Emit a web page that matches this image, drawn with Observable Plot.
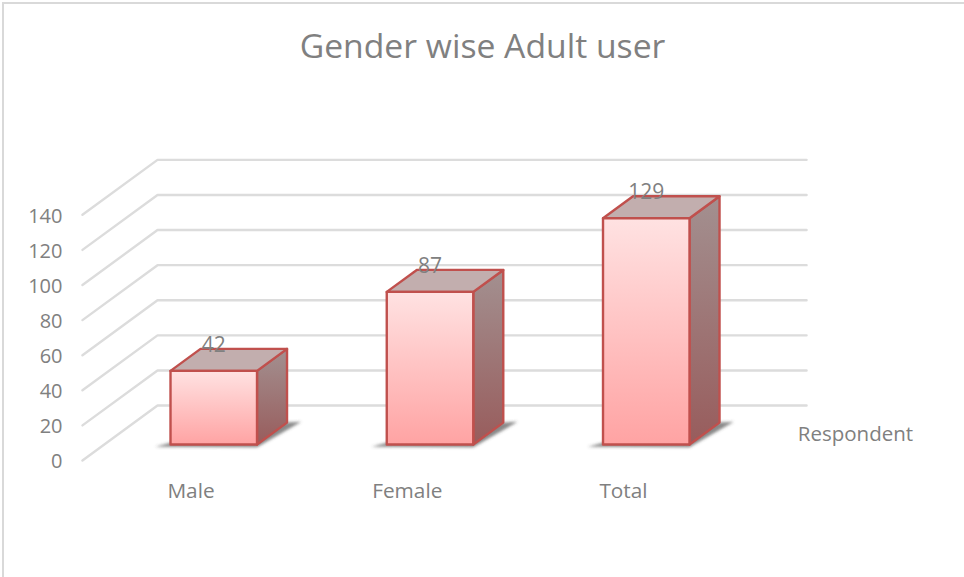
<!DOCTYPE html>
<html>
<head>
<meta charset="utf-8">
<script src="https://cdn.jsdelivr.net/npm/d3@7"></script>
<script src="https://cdn.jsdelivr.net/npm/@observablehq/plot@0.6"></script>
<style>
html,body{margin:0;padding:0;background:#fff}
#wrap{position:relative;width:964px;height:577px;overflow:hidden}
#border{position:absolute;left:2px;top:2px;width:960px;height:590px;border:2px solid #d9d9d9;border-width:2px 2px 0 2px;box-sizing:content-box;pointer-events:none}
</style>
</head>
<body>
<div id="wrap"><div id="border"></div></div>
<script>
const titleText = "Gender wise Adult user";
const seriesName = "Respondent";
const categories = ["Male", "Female", "Total"];
const respondents = [42, 87, 129];
const yTicks = [0, 20, 40, 60, 80, 100, 120, 140];

// oblique 3D projection expressed in data units (x: category index, y: value)
const DEPTH_X = 0.347, DEPTH_Y = 31.3;
const FLOOR_L = -0.5065, FLOOR_R = 2.495;
const HALF = 0.2, D0 = 0.29, D1 = 0.69;
const pt = (x, v, d) => ({x: x + d * DEPTH_X, y: v + d * DEPTH_Y});

const gridRows = yTicks.flatMap(t => [
  {...pt(FLOOR_L, t, 0), t},
  {...pt(FLOOR_L, t, 1), t},
  {...pt(FLOOR_R, t, 1), t}
]);
const poly = (i, corners) => [...corners, corners[0]].map(c => ({...pt(c[0], c[1], c[2]), i}));
const frontRows = respondents.flatMap((v, i) => poly(i, [[i-HALF,v,D0],[i+HALF,v,D0],[i+HALF,0,D0],[i-HALF,0,D0]]));
const sideRows  = respondents.flatMap((v, i) => poly(i, [[i+HALF,v,D0],[i+HALF,v,D1],[i+HALF,0,D1],[i+HALF,0,D0]]));
const topRows   = respondents.flatMap((v, i) => poly(i, [[i-HALF,v,D0],[i+HALF,v,D0],[i+HALF,v,D1],[i-HALF,v,D1]]));
const shadowRows = respondents.flatMap((v, i) => poly(i, [
  [i-HALF-0.07,-1.2,D0],[i+HALF,-1.5,D0],[i+HALF+0.055,-0.5,D1+0.03],[i+HALF-0.1,-0.5,D1],[i-HALF,0,D0+0.05]
]));
const labelRows = respondents.map((v, i) => ({...pt(i, v, D0), v}));

const defs = () => {
  const ns = "http://www.w3.org/2000/svg";
  const el = document.createElementNS(ns, "defs");
  el.innerHTML = `
    <linearGradient id="fFront" x1="0" y1="0" x2="0" y2="1">
      <stop offset="0" stop-color="#ffe2e2"/><stop offset="1" stop-color="#ffa3a3"/>
    </linearGradient>
    <linearGradient id="fSide" x1="0" y1="0" x2="0" y2="1">
      <stop offset="0" stop-color="#a39090"/><stop offset="1" stop-color="#985c5c"/>
    </linearGradient>
    <filter id="soft" x="-20%" y="-50%" width="140%" height="200%"><feGaussianBlur stdDeviation="1.8"/></filter>`;
  return el;
};
const soft = (index, scales, values, dims, ctx, next) => {
  const g = next(index, scales, values, dims, ctx);
  g.setAttribute("filter", "url(#soft)");
  return g;
};

const faceStyle = {x: "x", y: "y", z: "i", stroke: "#c0504d", strokeWidth: 2.4, strokeLinejoin: "round"};

const chart = Plot.plot({
  width: 964, height: 577,
  marginTop: 0, marginRight: 0, marginBottom: 0, marginLeft: 0,
  style: {fontFamily: "'Open Sans', sans-serif", color: "#808080", background: "transparent"},
  x: {domain: [0, 2], range: [191.5, 624]},
  y: {domain: [0, 140], range: [460, 214.3]},
  marks: [
    defs,
    Plot.line(gridRows, {x: "x", y: "y", z: "t", stroke: "#dcdcdc", strokeWidth: 2.4, strokeLinejoin: "miter"}),
    Plot.line(shadowRows, {x: "x", y: "y", z: "i", fill: "#4a4a4a", fillOpacity: 0.65, stroke: "none", render: soft}),
    Plot.line(sideRows, {...faceStyle, fill: "url(#fSide)"}),
    Plot.line(topRows, {...faceStyle, fill: "#c2aeae"}),
    Plot.line(frontRows, {...faceStyle, fill: "url(#fFront)"}),
    Plot.axisY({ticks: yTicks, anchor: "left", tickSize: 0, tickPadding: 0, dx: 62, dy: 1.5, fontSize: 20, tickFormat: d => d, label: null}),
    Plot.axisX({ticks: [0, 1, 2], anchor: "bottom", tickSize: 0, tickPadding: 0, dx: -1, dy: -94.5, fontSize: 20.8, tickFormat: i => categories[i], label: null}),
    Plot.text(labelRows, {x: "x", y: "y", text: "v", dy: -26, fontSize: 21}),
    Plot.text([seriesName], {x: [3.068], y: [14.8], text: d => d, fontSize: 20.5}),
    Plot.text([titleText], {frameAnchor: "top", dy: 47, text: d => d, fontSize: 33.7, lineAnchor: "middle"})
  ]
});
document.getElementById("wrap").prepend(chart);
</script>
</body>
</html>
